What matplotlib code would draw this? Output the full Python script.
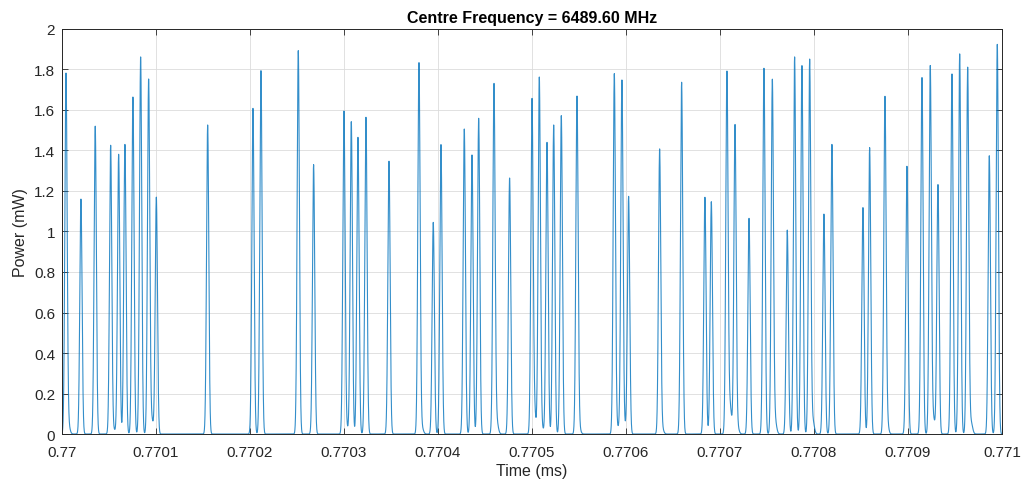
import numpy as np
import matplotlib
matplotlib.use('Agg')
import matplotlib.pyplot as plt

# pulse peak times, offset from 0.77 ms, in units of 1e-6 ms
peak_t = [4.3, 20.2, 35.4, 51.8, 60.3, 67.0, 75.5, 83.7, 92.2, 100.4,
          155.0, 203.2, 211.7, 251.4, 267.7, 300.0, 307.8, 314.9, 323.4, 347.9,
          379.8, 395.0, 403.2, 428.0, 436.2, 443.3, 459.6, 476.2, 500.0, 507.8,
          516.0, 523.1, 531.2, 547.9, 587.6, 595.7, 602.8, 635.8, 659.2, 684.0,
          690.8, 707.4, 716.0, 730.9, 746.8, 755.7, 771.6, 779.4, 787.2, 795.4,
          810.6, 819.1, 852.1, 859.2, 875.5, 898.9, 914.9, 923.7, 931.9, 946.8,
          955.0, 963.5, 986.5, 995.0]
# peak power (mW)
peak_p = [1.766, 1.16, 1.52, 1.424, 1.381, 1.43, 1.664, 1.862, 1.743, 1.169,
          1.526, 1.608, 1.794, 1.893, 1.33, 1.589, 1.542, 1.465, 1.564, 1.347,
          1.827, 1.045, 1.429, 1.506, 1.378, 1.559, 1.717, 1.264, 1.597, 1.756,
          1.44, 1.526, 1.572, 1.654, 1.778, 1.746, 1.169, 1.399, 1.737, 1.169,
          1.147, 1.773, 1.515, 1.065, 1.806, 1.737, 1.007, 1.862, 1.819, 1.842,
          1.086, 1.43, 1.118, 1.414, 1.625, 1.322, 1.76, 1.809, 1.231, 1.778,
          1.877, 1.806, 1.374, 1.924]
# small side lobes near the base
lobe_t = [6.7, 55.3, 95.4, 302.9, 382.7, 462.4, 502.1, 510.6, 550.0, 591.5,
          599.7, 638.3, 710.6, 718.4, 758.5, 798.6, 877.3, 926.9, 967.0]
lobe_p = [0.05, 0.02, 0.074, 0.03, 0.035, 0.066, 0.14, 0.03, 0.035, 0.03,
          0.03, 0.03, 0.143, 0.04, 0.07, 0.07, 0.08, 0.08, 0.06]

t0 = 0.77
tt = np.linspace(0, 1000, 20001)
power = np.zeros_like(tt)
for c, h in zip(peak_t, peak_p):
    power += h * np.exp(-0.5 * ((tt - c) / 1.2) ** 2)
for c, h in zip(lobe_t, lobe_p):
    power += h * np.exp(-0.5 * ((tt - c) / 1.6) ** 2)
time = t0 + tt * 1e-6

plt.rcParams['font.family'] = ['Liberation Sans', 'DejaVu Sans']
fig = plt.figure(figsize=(10.24, 4.89), dpi=100)
ax = fig.add_axes([0.0605, 0.1104, 0.918, 0.8283])

ax.plot(time, power, color='#0072BD', lw=0.8, alpha=0.8)

ax.set_xlim(0.77, 0.771)
ax.set_ylim(0, 2)
xt = np.round(np.arange(0.77, 0.77101, 0.0001), 4)
ax.set_xticks(xt)
ax.set_xticklabels(['%g' % v for v in xt])
yt = np.round(np.arange(0, 2.01, 0.2), 1)
ax.set_yticks(yt)
ax.set_yticklabels(['%g' % v for v in yt])

ax.grid(True, color='#dcdcdc', lw=0.6)
ax.set_axisbelow(True)
ax.tick_params(direction='in', length=4, width=0.6, top=True, right=True,
               colors='#262626', labelsize=11)
ax.tick_params(axis='x', pad=8)
ax.tick_params(axis='y', pad=5)
for s in ax.spines.values():
    s.set_color('#262626')
    s.set_linewidth(0.7)

ax.set_title('Centre Frequency = 6489.60 MHz', fontsize=11.5, fontweight='bold', pad=5)
ax.set_xlabel('Time (ms)', fontsize=11.5, color='#262626', labelpad=3)
ax.set_ylabel('Power (mW)', fontsize=11.5, color='#262626', labelpad=4)

plt.savefig('out.png', dpi=100)
